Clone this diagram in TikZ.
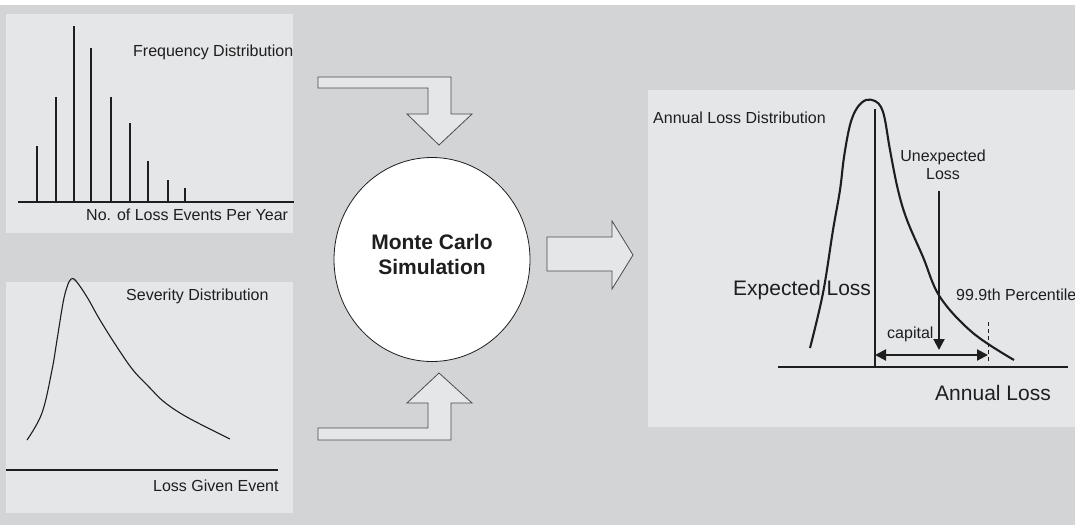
\documentclass[tikz,border=0pt]{standalone}
\usepackage{fontspec}
\setmainfont{Liberation Sans}
\usetikzlibrary{arrows.meta,shapes.geometric}
\definecolor{bggray}{RGB}{211,212,214}
\definecolor{panel}{RGB}{229,230,232}
\definecolor{ink}{RGB}{30,30,30}
\begin{document}
\begin{tikzpicture}[x=1pt,y=-1pt,
  panelbox/.style={fill=panel,draw=none},
  bar/.style={draw=ink,line width=1.3pt},
  curve/.style={draw=ink,line width=1.1pt},
  thick curve/.style={draw=ink,line width=2.1pt},
  blockarrow/.style={fill=panel,draw=ink!80,line width=0.8pt,line join=miter},
  small/.style={font=\fontsize{16}{19}\selectfont,text=ink,inner sep=0pt},
  big/.style={font=\fontsize{21}{25}\selectfont,text=ink,inner sep=0pt}]
\useasboundingbox (0,0) rectangle (1075,525);
\clip (0,0) rectangle (1075,525);
\fill[white] (0,0) rectangle (1075,525);
\fill[bggray] (0,5) rectangle (1075,525);
% panels
\fill[panelbox] (6,14) rectangle (293,233);
\fill[panelbox] (6,282) rectangle (293,513);
\fill[panelbox] (648,90) rectangle (1075,427);
% frequency distribution
\draw[bar] (18,202) -- (294,202);
\foreach \x/\t in {37/146,56/97,74/26,91/48,111/97,130/123,148/161,168/180,185/188}
  \draw[bar] (\x,202) -- (\x,\t);
\node[small,anchor=mid west] (freq) at (133,54) {Frequency Distribution};
\node[small,anchor=mid west] (nle) at (86,218) {No. of Loss Events Per Year};
% severity distribution
\draw[bar] (6,470) -- (278,470);
\draw[curve] plot[smooth,tension=0.6] coordinates {(27,440) (42,413) (52,370) (57,340) (63,303) (67,287) (71,279) (76,281) (87,297) (100,320) (117,347) (133,370) (150,388) (163,401) (180,413) (200,424) (230,439)};
\node[small,anchor=mid west] (sev) at (126,298) {Severity Distribution};
\node[small,anchor=mid west] (lge) at (153,489) {Loss Given Event};
% block arrows
\draw[blockarrow] (318,77) -- (451,77) -- (451,114) -- (472,114) -- (439,145) -- (407,114) -- (428,114) -- (428,88) -- (318,88) -- cycle;
\draw[blockarrow] (318,440) -- (451,440) -- (451,403) -- (472,403) -- (439,373) -- (407,403) -- (428,403) -- (428,428) -- (318,428) -- cycle;
\draw[blockarrow] (547,237) -- (612,237) -- (612,221) -- (633,255) -- (612,289) -- (612,271) -- (547,271) -- cycle;
% Monte Carlo circle
\node[draw=ink,fill=white,ellipse,minimum width=196pt,minimum height=204pt,line width=0.8pt,inner sep=0pt] (mc) at (432,259.5) {};
\node[font=\fontsize{21}{25}\selectfont\bfseries,text=ink,align=center,inner sep=0pt] (mctext) at (432,254) {Monte Carlo\\Simulation};
% annual loss distribution
\draw[thick curve] (778,367) -- (1068,367);
\coordinate (elTop) at (875,109);
\coordinate (elBot) at (875,367);
\draw[thick curve] (elTop) -- (elBot);
\draw[thick curve] plot[smooth,tension=0.6] coordinates {(810,348) (823,293) (833,230) (840,190) (844,157) (850,125) (857,108) (866,100) (875,101) (881,107) (885,120) (890,150) (898,190) (907,220) (923,257) (940,297) (973,333) (1014,360)};
\coordinate (ulTop) at (939,191);
\coordinate (ulTip) at (939,350);
\draw[thick curve,-{Triangle[length=11pt,width=11pt]}] (ulTop) -- (ulTip);
\coordinate (capL) at (875,355);
\coordinate (capR) at (988,355);
\draw[thick curve,{Triangle[length=11pt,width=11pt]}-{Triangle[length=11pt,width=11pt]}] (capL) -- (capR);
\coordinate (pTop) at (988,322);
\coordinate (pBot) at (988,364);
\draw[draw=ink,line width=1pt,dash pattern=on 4pt off 3pt] (pTop) -- (pBot);
\node[small,anchor=mid west] (ald) at (653,121) {Annual Loss Distribution};
\node[small,align=center,font=\fontsize{16}{18.5}\selectfont] (ul) at (943,165) {Unexpected\\Loss};
\node[big,anchor=mid west] (el) at (733,293) {Expected Loss};
\node[small,anchor=mid west] (pct) at (956,298) {99.9th Percentile};
\node[small,anchor=mid west] (cap) at (887,336) {capital};
\node[big,anchor=mid west] (al) at (935,398) {Annual Loss};
\end{tikzpicture}
\end{document}
